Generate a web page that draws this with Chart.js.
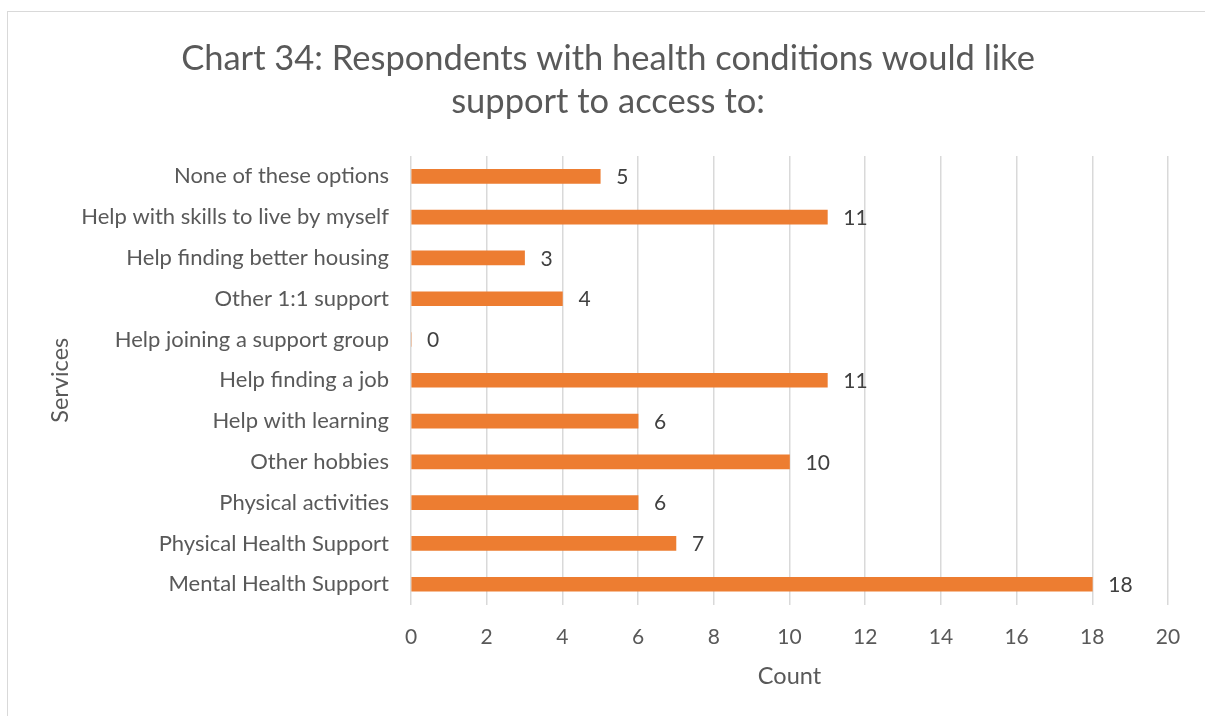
<!DOCTYPE html>
<html>
<head>
<meta charset="utf-8">
<script src="https://cdn.jsdelivr.net/npm/chart.js@4"></script>
<style>
  html, body { margin: 0; padding: 0; background: #fff; }
  #wrap { position: relative; width: 1205px; height: 716px; overflow: hidden; }
  #frame { position: absolute; left: 7px; top: 11px; width: 1300px; height: 800px;
           border-left: 1.5px solid #d9d9d9; border-top: 1.5px solid #d9d9d9; }
  canvas { position: absolute; left: 0; top: 0; }
</style>
</head>
<body>
<div id="wrap">
  <div id="frame"></div>
  <canvas id="c" width="1205" height="716"></canvas>
</div>
<script>
const titleLines = ["Chart 34: Respondents with health conditions would like", "support to access to:"];
const categories = [
  "None of these options",
  "Help with skills to live by myself",
  "Help finding better housing",
  "Other 1:1 support",
  "Help joining a support group",
  "Help finding a job",
  "Help with learning",
  "Other hobbies",
  "Physical activities",
  "Physical Health Support",
  "Mental Health Support"
];
const counts = [5, 11, 3, 4, 0, 11, 6, 10, 6, 7, 18];
const xTicks = [0, 2, 4, 6, 8, 10, 12, 14, 16, 18, 20];

const FONT = "Lato, 'Open Sans', sans-serif";
const GREY = "#595959";

// value labels to the right of each bar
const barValueLabels = {
  id: "barValueLabels",
  afterDatasetsDraw(chart) {
    const ctx = chart.ctx;
    const meta = chart.getDatasetMeta(0);
    ctx.save();
    ctx.font = "21px " + FONT;
    ctx.fillStyle = "#404040";
    ctx.textAlign = "left";
    ctx.textBaseline = "middle";
    meta.data.forEach((bar, i) => {
      ctx.fillText(String(counts[i]), bar.x + 16, bar.y + 1);
    });
    ctx.restore();
  }
};

new Chart(document.getElementById("c"), {
  type: "bar",
  data: {
    labels: categories,
    datasets: [{
      data: counts,
      backgroundColor: "#ED7D31",
      borderWidth: 0,
      barThickness: 14
    }]
  },
  plugins: [barValueLabels],
  options: {
    indexAxis: "y",
    responsive: false,
    animation: false,
    layout: { padding: { left: 11, right: 0, top: 37, bottom: 21 } },
    plugins: {
      legend: { display: false },
      tooltip: { enabled: false },
      title: {
        display: true,
        text: titleLines,
        color: GREY,
        font: { family: FONT, size: 34.5, weight: "normal", lineHeight: 1.246 },
        padding: { top: 0, bottom: 33 }
      }
    },
    scales: {
      x: {
        min: 0,
        max: 20,
        afterBuildTicks(scale) { scale.ticks = xTicks.map(v => ({ value: v })); },
        afterFit(scale) { scale.paddingRight = 37; scale.height -= 22; },
        grid: { color: "#d9d9d9", lineWidth: 1.5, drawTicks: false },
        border: { display: false },
        ticks: { color: GREY, padding: 20, font: { family: FONT, size: 21 } },
        title: {
          display: true, text: "Count", color: GREY,
          font: { family: FONT, size: 23.5 }, padding: { top: 15, bottom: 4 }
        }
      },
      y: {
        afterFit(scale) { scale.width = 400; },
        grid: { display: false, drawTicks: false },
        border: { display: false },
        ticks: { color: GREY, padding: 22, font: { family: FONT, size: 22 } },
        title: {
          display: true, text: "Services", color: GREY,
          font: { family: FONT, size: 23.5 }, padding: { top: 35, bottom: 0 }
        }
      }
    }
  }
});
</script>
</body>
</html>
